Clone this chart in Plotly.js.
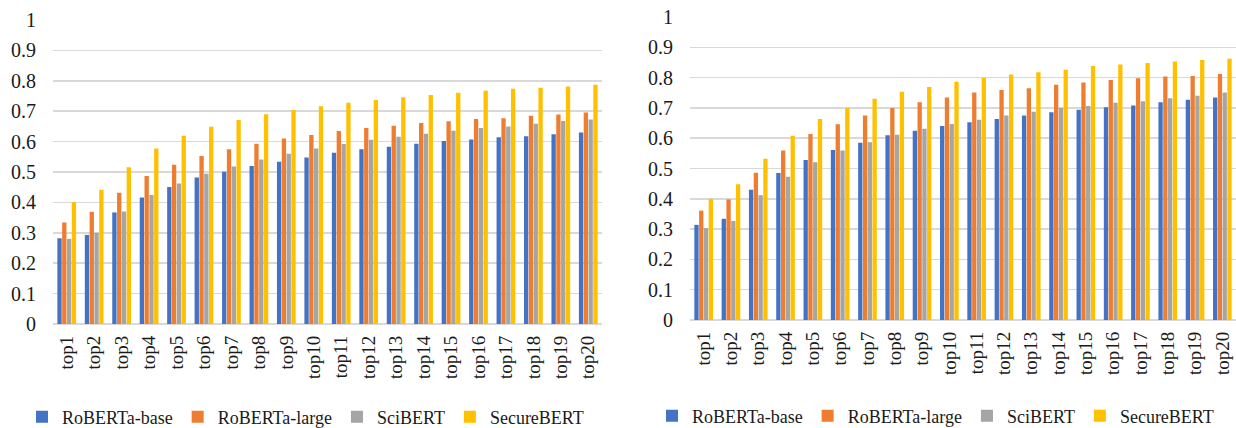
<!DOCTYPE html>
<html>
<head>
<meta charset="utf-8">
<script src="https://cdn.plot.ly/plotly-3.0.1.min.js"></script>
<style>html,body{margin:0;padding:0;background:#fff;}#chart{width:1236px;height:428px;}</style>
</head>
<body>
<div id="chart"></div>
<script>
const categories = ["top1","top2","top3","top4","top5","top6","top7","top8","top9","top10","top11","top12","top13","top14","top15","top16","top17","top18","top19","top20"];
const seriesNames = ["RoBERTa-base","RoBERTa-large","SciBERT","SecureBERT"];
const seriesColors = ["#4472C4","#ED7D31","#A5A5A5","#FFC000"];

// Left chart
const leftRobertaBase  = [0.282,0.293,0.367,0.416,0.451,0.482,0.501,0.520,0.534,0.548,0.563,0.575,0.583,0.593,0.602,0.607,0.614,0.618,0.624,0.630];
const leftRobertaLarge = [0.334,0.369,0.432,0.487,0.524,0.553,0.575,0.593,0.610,0.622,0.635,0.645,0.652,0.661,0.667,0.674,0.677,0.685,0.689,0.696];
const leftSciBert      = [0.280,0.300,0.370,0.424,0.462,0.494,0.518,0.541,0.560,0.577,0.592,0.606,0.616,0.626,0.636,0.645,0.650,0.659,0.668,0.673];
const leftSecureBert   = [0.401,0.442,0.516,0.577,0.619,0.649,0.671,0.690,0.704,0.716,0.728,0.737,0.746,0.753,0.761,0.767,0.774,0.777,0.781,0.787];

// Right chart
const rightRobertaBase  = [0.314,0.334,0.430,0.485,0.528,0.561,0.585,0.610,0.625,0.640,0.653,0.663,0.675,0.686,0.694,0.702,0.708,0.719,0.727,0.734];
const rightRobertaLarge = [0.361,0.398,0.486,0.559,0.614,0.646,0.675,0.700,0.719,0.734,0.751,0.759,0.765,0.776,0.784,0.792,0.798,0.804,0.805,0.812];
const rightSciBert      = [0.303,0.327,0.412,0.473,0.521,0.559,0.587,0.611,0.631,0.647,0.661,0.675,0.687,0.700,0.706,0.717,0.722,0.732,0.740,0.751];
const rightSecureBert   = [0.400,0.448,0.532,0.608,0.663,0.700,0.730,0.753,0.769,0.786,0.799,0.810,0.818,0.826,0.838,0.843,0.848,0.853,0.858,0.862];

const yTickVals = [0,0.1,0.2,0.3,0.4,0.5,0.6,0.7,0.8,0.9,1];
const yTickText = ["0","0.1","0.2","0.3","0.4","0.5","0.6","0.7","0.8","0.9","1"];

const W = 1236, H = 428;
const FONT = 'Liberation Serif, Times New Roman, serif';

const leftData = [leftRobertaBase, leftRobertaLarge, leftSciBert, leftSecureBert];
const rightData = [rightRobertaBase, rightRobertaLarge, rightSciBert, rightSecureBert];

const traces = [];
leftData.forEach((vals, i) => {
  traces.push({type:'bar', x:categories, y:vals, name:seriesNames[i], marker:{color:seriesColors[i]},
    xaxis:'x', yaxis:'y', legend:'legend', hoverinfo:'x+y+name'});
});
rightData.forEach((vals, i) => {
  traces.push({type:'bar', x:categories, y:vals, name:seriesNames[i], marker:{color:seriesColors[i]},
    xaxis:'x2', yaxis:'y2', legend:'legend2', hoverinfo:'x+y+name'});
});

const yAxisBase = {
  range:[0,1], tickvals:yTickVals, ticktext:yTickText, showgrid:true, gridcolor:'#D9D9D9', gridwidth:1.5,
  zeroline:true, zerolinecolor:'#D9D9D9', zerolinewidth:1.5, showline:false, ticks:'',
  ticklabelstandoff:16, tickfont:{family:FONT, size:20, color:'#1a1a1a'}, fixedrange:true, automargin:false
};
const xAxisBase = {
  type:'category', tickangle:-90, ticks:'', showgrid:false, zeroline:false, showline:false,
  ticklabelstandoff:7, tickfont:{family:FONT, size:19, color:'#1a1a1a'}, fixedrange:true, automargin:false
};
const legendBase = {
  orientation:'h', yanchor:'middle', xanchor:'left', font:{family:FONT, size:18, color:'#1a1a1a'},
  bgcolor:'rgba(0,0,0,0)', itemclick:false, itemdoubleclick:false, traceorder:'normal'
};

const layout = {
  width:W, height:H, margin:{l:0,r:0,t:0,b:0,autoexpand:false}, paper_bgcolor:'#fff', plot_bgcolor:'#fff',
  barmode:'group', bargap:0.3, bargroupgap:0.1, showlegend:true,
  xaxis: Object.assign({}, xAxisBase, {domain:[53/W, 602/W], anchor:'y'}),
  yaxis: Object.assign({}, yAxisBase, {domain:[1-324/H, 1-20/H], anchor:'x'}),
  xaxis2: Object.assign({}, xAxisBase, {domain:[690/W, 1], anchor:'y2'}),
  yaxis2: Object.assign({}, yAxisBase, {domain:[1-320/H, 1-17/H], anchor:'x2'}),
  legend: Object.assign({}, legendBase, {x:22/W, y:1-417/H}),
  legend2: Object.assign({}, legendBase, {x:652/W, y:1-416/H})
};

Plotly.newPlot('chart', traces, layout, {displayModeBar:false, staticPlot:true});
</script>
</body>
</html>
